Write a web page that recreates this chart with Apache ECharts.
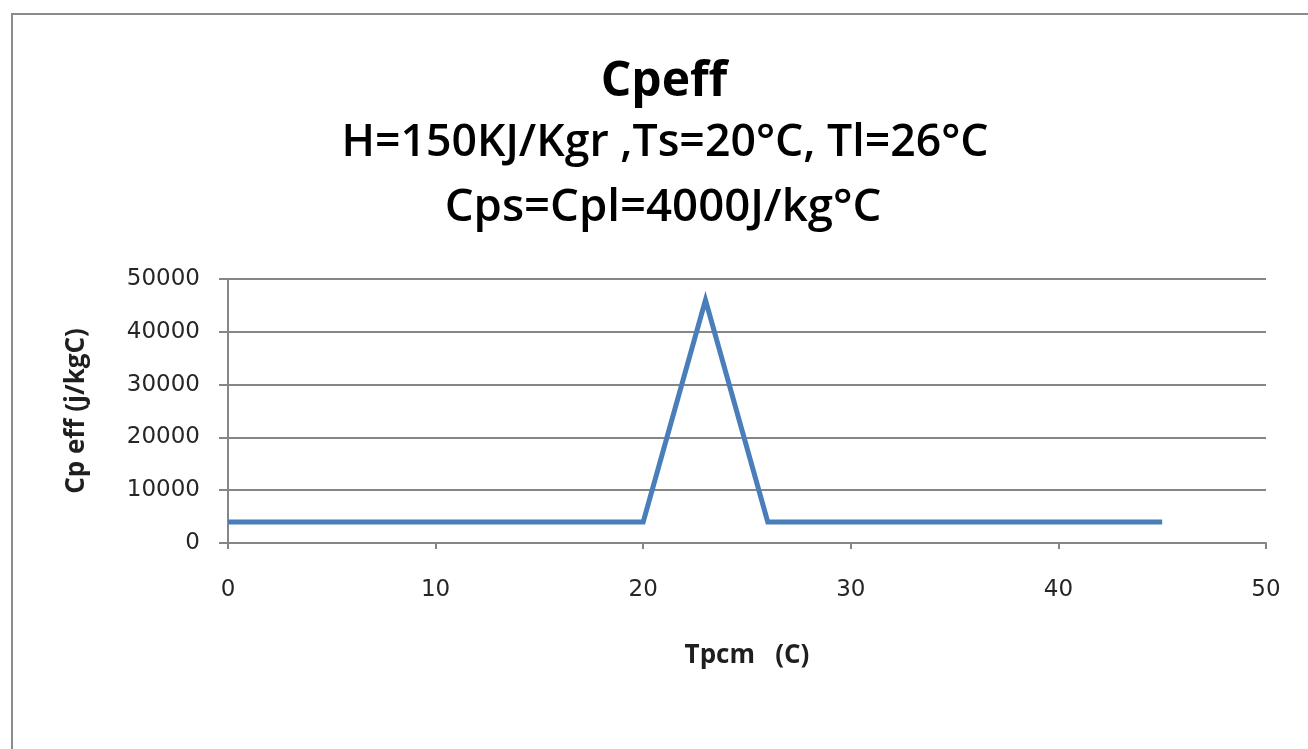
<!DOCTYPE html>
<html><head><meta charset="utf-8">
<script src="https://cdn.jsdelivr.net/npm/echarts@6/dist/echarts.min.js"></script>
<style>html,body{margin:0;padding:0;background:#fff}#c{width:1308px;height:749px}</style>
</head><body><div id="c"></div>
<script>
const temps = [0, 20, 23, 26, 45];
const cpEff = [4000, 4000, 46000, 4000, 4000];
const titleLines = ['Cpeff', 'H=150KJ/Kgr ,Ts=20°C, Tl=26°C', 'Cps=Cpl=4000J/kg°C'];
const xName = 'Tpcm   (C)';
const yName = 'Cp eff (j/kgC)';

const chart = echarts.init(document.getElementById('c'));
const ff = '"Open Sans", "Noto Sans", sans-serif';
const lf = '"DejaVu Sans", "Open Sans", sans-serif';
chart.setOption({
  backgroundColor: '#fff',
  animation: false,
  graphic: [
    {type: 'rect', shape: {x: 12, y: 14, width: 1320, height: 760}, style: {fill: 'none', stroke: '#8c8c8c', lineWidth: 2}},
    {type: 'text', x: 664, y: 82, style: {text: titleLines[0], font: 'bold 48px ' + ff, fill: '#000', align: 'center', verticalAlign: 'middle'}},
    {type: 'text', x: 665, y: 143, scaleX: 0.97, style: {text: titleLines[1], font: '600 46px ' + ff, fill: '#000', align: 'center', verticalAlign: 'middle'}},
    {type: 'text', x: 663, y: 208, scaleX: 0.99, style: {text: titleLines[2], font: '600 46px ' + ff, fill: '#000', align: 'center', verticalAlign: 'middle'}}
  ],
  grid: {left: 228, right: 42, top: 279, bottom: 206, containLabel: false},
  xAxis: {
    type: 'value', min: 0, max: 50, interval: 10,
    name: xName, nameLocation: 'middle', nameGap: 100,
    nameTextStyle: {fontFamily: ff, fontWeight: 'bold', fontSize: 26, color: '#1f1f1f'},
    axisLine: {lineStyle: {color: '#868686', width: 2}},
    axisTick: {show: true, length: 6, lineStyle: {color: '#868686', width: 2}},
    axisLabel: {fontFamily: lf, fontSize: 23, color: '#262626', margin: 36},
    splitLine: {show: false}
  },
  yAxis: {
    type: 'value', min: 0, max: 50000, interval: 10000,
    name: yName, nameLocation: 'middle', nameGap: 138,
    nameTextStyle: {fontFamily: ff, fontWeight: 'bold', fontSize: 26, color: '#1f1f1f'},
    axisLine: {show: true, lineStyle: {color: '#868686', width: 2}},
    axisTick: {show: true, length: 9, lineStyle: {color: '#868686', width: 2}},
    axisLabel: {fontFamily: lf, fontSize: 23, color: '#262626', margin: 28, formatter: v => String(v)},
    splitLine: {show: true, lineStyle: {color: '#868686', width: 2}}
  },
  series: [{
    type: 'line',
    data: temps.map((t, i) => [t, cpEff[i]]),
    showSymbol: false,
    lineStyle: {color: '#4a7ebb', width: 5, join: 'miter'},
    itemStyle: {color: '#4a7ebb'}
  }]
});
</script></body></html>
